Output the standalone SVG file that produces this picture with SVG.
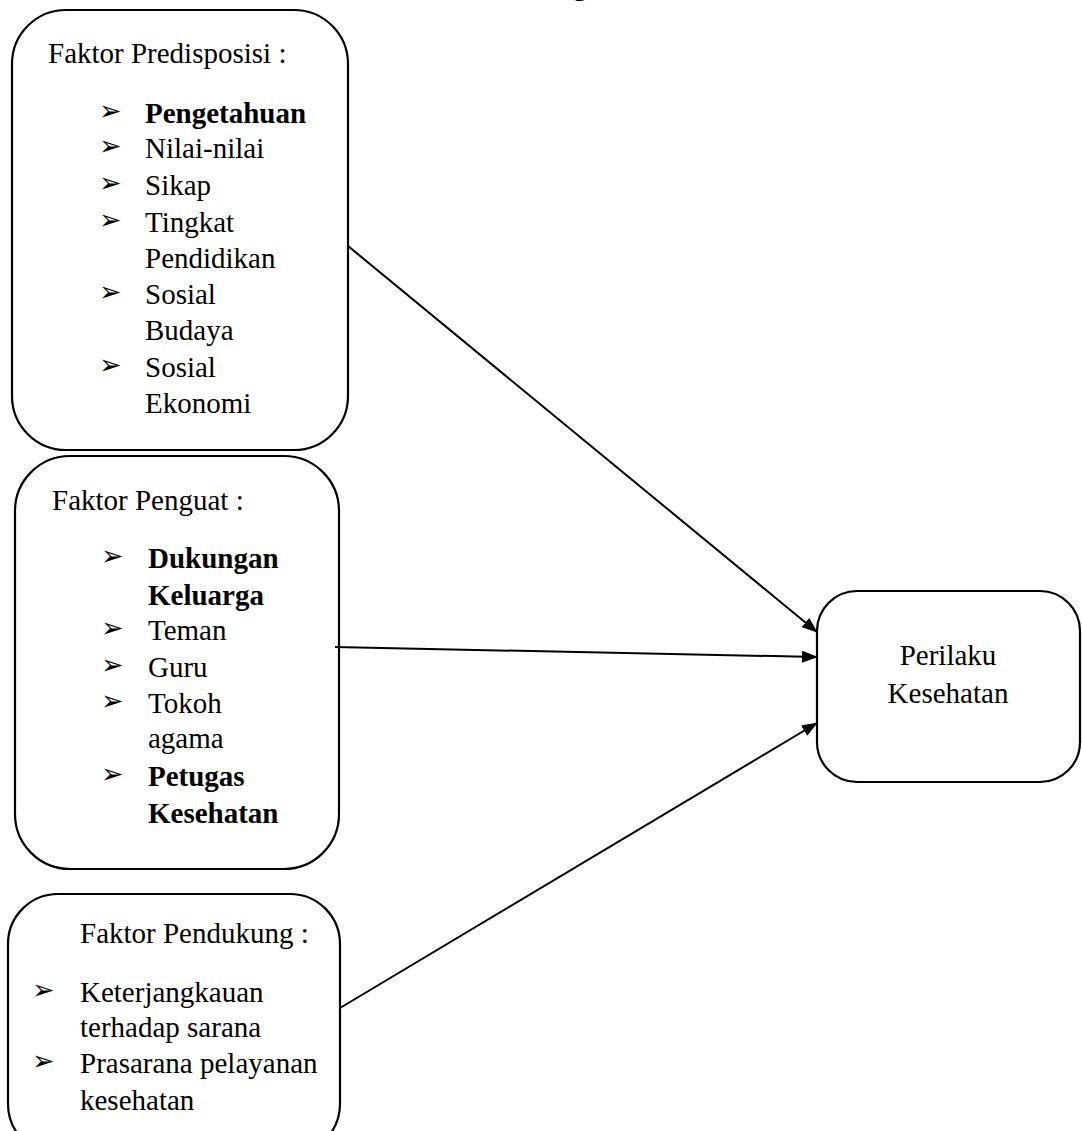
<svg xmlns="http://www.w3.org/2000/svg" width="1082" height="1131" viewBox="0 0 1082 1131">
<defs>
<marker id="arr" markerWidth="16" markerHeight="12" refX="15" refY="6" orient="auto" markerUnits="userSpaceOnUse">
<path d="M0,0 L16,6 L0,12 Z" fill="#000"/>
</marker>
<style>
.box{fill:#fff;stroke:#000;stroke-width:2.2}
.t{font-family:"Liberation Serif","Times New Roman",serif;font-size:29px;fill:#000}
.b{font-weight:bold}
.bul{font-family:"DejaVu Sans",sans-serif;font-size:27px;fill:#000}
.con{stroke:#000;stroke-width:2;fill:none;marker-end:url(#arr)}
</style>
</defs>
<rect width="1082" height="1131" fill="#fff"/>
<text class="t b" x="573" y="-5">g</text>

<g id="predisposisi">
<rect class="box" x="12" y="10" width="336" height="440" rx="54" ry="54"/>
<text class="t" x="48" y="63">Faktor Predisposisi :</text>
<text class="bul" x="99" y="120">➢</text><text class="t b" x="145" y="123">Pengetahuan</text>
<text class="bul" x="99" y="155">➢</text><text class="t" x="145" y="158">Nilai-nilai</text>
<text class="bul" x="99" y="192">➢</text><text class="t" x="145" y="195">Sikap</text>
<text class="bul" x="99" y="229">➢</text><text class="t" x="145" y="232">Tingkat</text>
<text class="t" x="145" y="268">Pendidikan</text>
<text class="bul" x="99" y="301">➢</text><text class="t" x="145" y="304">Sosial</text>
<text class="t" x="145" y="340">Budaya</text>
<text class="bul" x="99" y="374">➢</text><text class="t" x="145" y="377">Sosial</text>
<text class="t" x="145" y="413">Ekonomi</text>
</g>

<g id="penguat">
<rect class="box" x="15" y="456" width="324" height="413" rx="55" ry="55"/>
<text class="t" x="52" y="510">Faktor Penguat :</text>
<text class="bul" x="101" y="565">➢</text><text class="t b" x="148" y="568">Dukungan</text>
<text class="t b" x="148" y="605">Keluarga</text>
<text class="bul" x="101" y="637">➢</text><text class="t" x="148" y="640">Teman</text>
<text class="bul" x="101" y="674">➢</text><text class="t" x="148" y="677">Guru</text>
<text class="bul" x="101" y="710">➢</text><text class="t" x="148" y="713">Tokoh</text>
<text class="t" x="148" y="748">agama</text>
<text class="bul" x="101" y="783">➢</text><text class="t b" x="148" y="786">Petugas</text>
<text class="t b" x="148" y="823">Kesehatan</text>
</g>

<g id="pendukung">
<rect class="box" x="8" y="894" width="332" height="260" rx="50" ry="50"/>
<text class="t" x="80" y="943">Faktor Pendukung :</text>
<text class="bul" x="32" y="999">➢</text><text class="t" x="80" y="1002">Keterjangkauan</text>
<text class="t" x="80" y="1037">terhadap sarana</text>
<text class="bul" x="32" y="1070">➢</text><text class="t" x="80" y="1073">Prasarana pelayanan</text>
<text class="t" x="80" y="1110">kesehatan</text>
</g>

<g id="perilaku">
<rect class="box" x="817" y="591" width="263" height="191" rx="40" ry="40"/>
<text class="t" x="948" y="665" text-anchor="middle">Perilaku</text>
<text class="t" x="948" y="703" text-anchor="middle">Kesehatan</text>
</g>

<g id="connectors">
<line class="con" x1="348" y1="246" x2="817" y2="632"/>
<line class="con" x1="335" y1="647" x2="817" y2="657"/>
<line class="con" x1="340" y1="1008" x2="817" y2="723"/>
</g>
</svg>
